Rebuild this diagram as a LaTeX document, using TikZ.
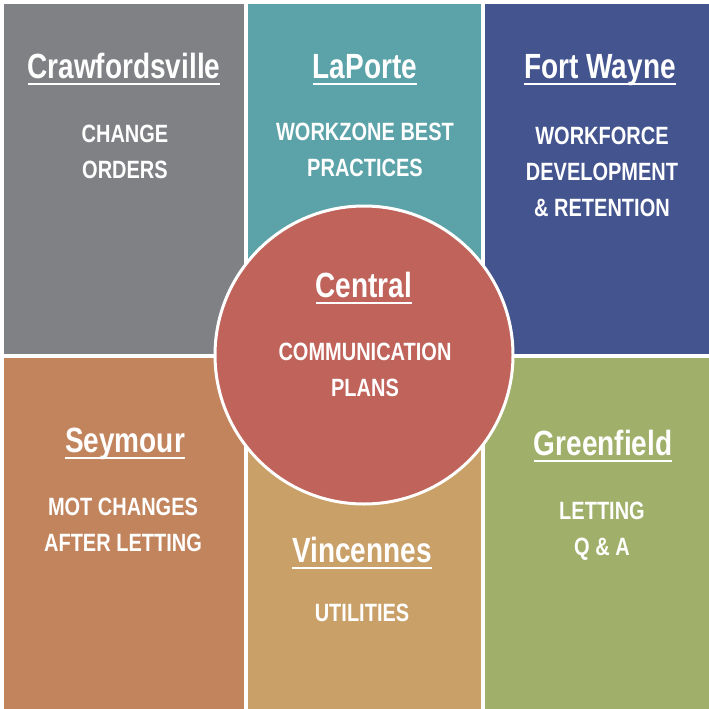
\documentclass[tikz,border=0pt]{standalone}
\usepackage{fontspec}
\setmainfont{Liberation Sans}[FakeStretch=0.8]
\usepackage{tikz}
\newsavebox{\ulbox}
\newcommand{\uline}[1]% underlined town name
{\sbox{\ulbox}{#1}\rlap{\rule[-7pt]{\wd\ulbox}{2.5pt}}\usebox{\ulbox}}
\definecolor{crawgray}{RGB}{128,129,133}
\definecolor{laporteteal}{RGB}{91,163,168}
\definecolor{wayneblue}{RGB}{67,84,143}
\definecolor{centralred}{RGB}{192,99,90}
\definecolor{seyorange}{RGB}{194,132,93}
\definecolor{vinctan}{RGB}{201,160,104}
\definecolor{greengreen}{RGB}{160,175,106}

\begin{document}
\begin{tikzpicture}[x=1pt,y=-1pt,
	town/.style={text=white, font=\fontsize{35}{40}\selectfont\bfseries, anchor=base, inner sep=0pt},
	task/.style={text=white, font=\fontsize{25}{36}\selectfont\bfseries, align=center, anchor=base, inner sep=0pt},
	hub/.style={circle, fill=centralred, draw=white, line width=3pt, minimum size=298pt}]
	\useasboundingbox (0,0) rectangle (709,709);
	\fill[crawgray] (4,4) rectangle (244,354);%Crawfordsville
	\fill[laporteteal] (248,4) rectangle (481,354);%LaPorte
	\fill[wayneblue] (485,4) rectangle (709,354);%Fort Wayne
	\fill[seyorange] (4,358) rectangle (244,709);%Seymour
	\fill[vinctan] (248,358) rectangle (481,709);%Vincennes
	\fill[greengreen] (485,358) rectangle (709,709);%Greenfield
	\node[hub] (central) at (364,355){};
	% task nodes sit on the baseline of their last line
	\node[town] (crawT) at (124,78){\uline{Crawfordsville}};
	\node[task] (crawB) at (125,178){CHANGE\\ORDERS};
	\node[town] (lapT) at (365,78){\uline{LaPorte}};
	\node[task] (lapB) at (365,176){WORKZONE BEST\\PRACTICES};
	\node[town] (wayT) at (600,78){\uline{Fort Wayne}};
	\node[task] (wayB) at (602,216){WORKFORCE\\DEVELOPMENT\\\& RETENTION};
	\node[town] (cenT) at (364,297){\uline{Central}};
	\node[task] (cenB) at (365,396){COMMUNICATION\\PLANS};
	\node[town] (seyT) at (125,452){\uline{Seymour}};
	\node[task] (seyB) at (123,551){MOT CHANGES\\AFTER LETTING};
	\node[town] (vinT) at (362,562){\uline{Vincennes}};
	\node[task] (vinB) at (362,621){UTILITIES};
	\node[town] (grnT) at (603,455){\uline{Greenfield}};
	\node[task] (grnB) at (602,555){LETTING\\Q \& A};
\end{tikzpicture}
\end{document}
